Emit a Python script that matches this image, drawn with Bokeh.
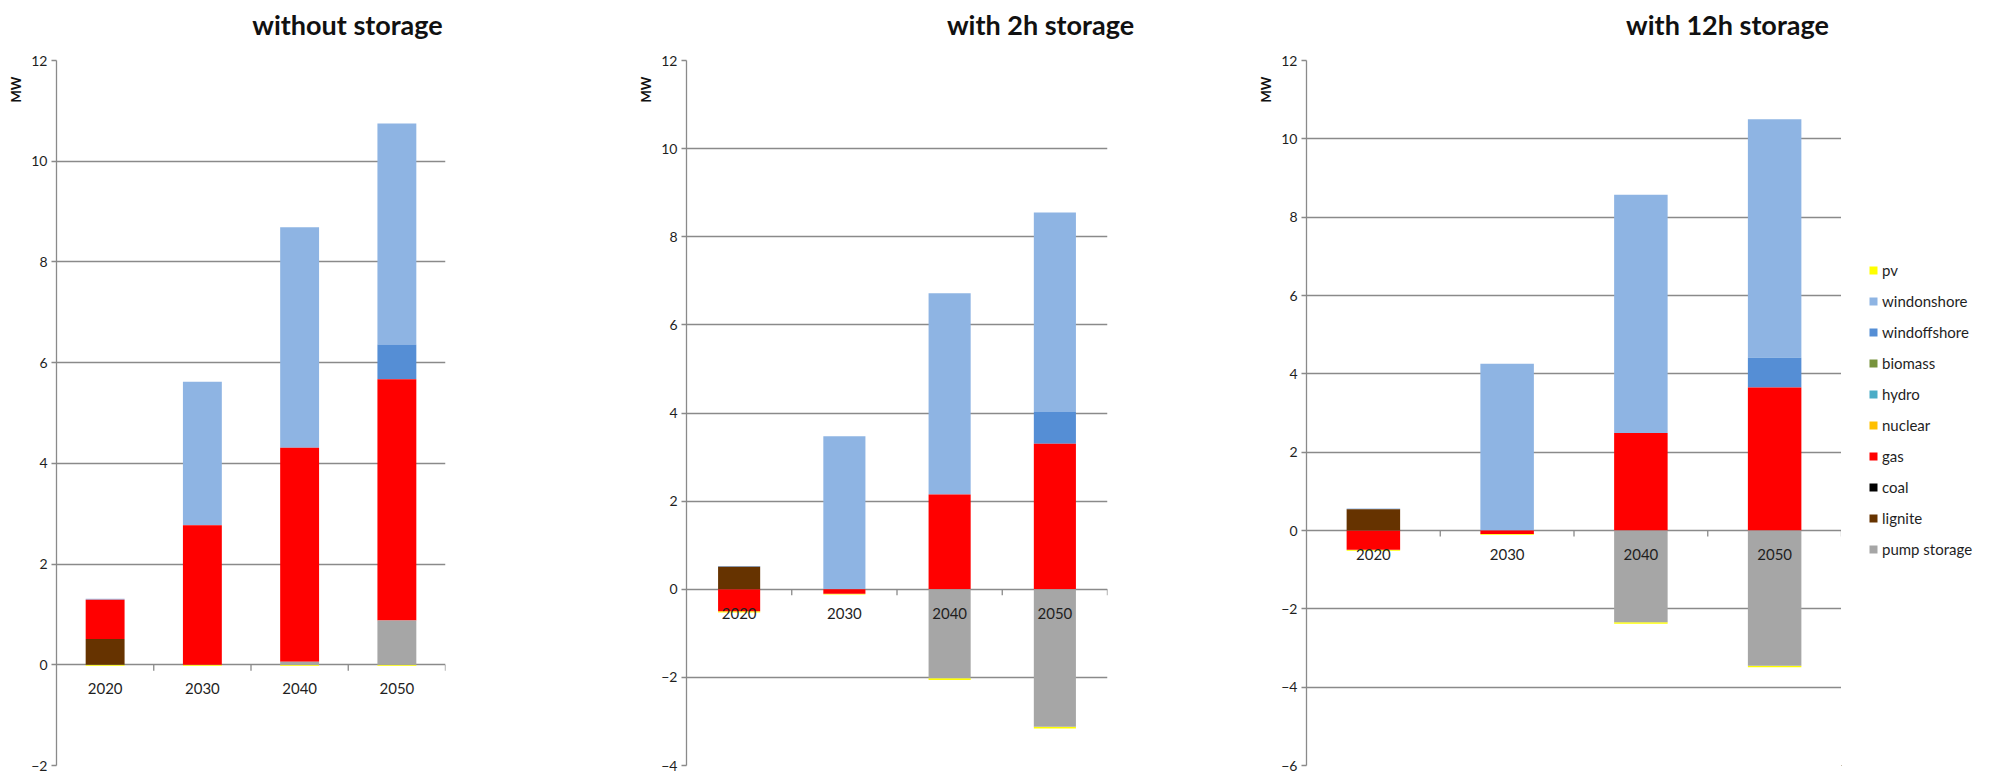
import math

from bokeh.core.properties import value
from bokeh.embed import file_html
from bokeh.layouts import column, row
from bokeh.models import FactorRange, FixedTicker, Legend, LegendItem, Range1d
from bokeh.models import Title
from bokeh.plotting import figure
from bokeh.resources import INLINE

years = ["2020", "2030", "2040", "2050"]
techs = ["pv", "windonshore", "windoffshore", "biomass", "hydro",
         "nuclear", "gas", "coal", "lignite", "pump storage"]
tech_colors = ["#FFFF00", "#8EB4E3", "#558ED5", "#77933C", "#4BACC6",
               "#FFC000", "#FF0000", "#000000", "#663300", "#A6A6A6"]
zeros = [0.0, 0.0, 0.0, 0.0]

# without storage (MW)
none_pv = [-0.02, -0.02, -0.02, -0.02]
none_windonshore = [0.02, 2.85, 4.38, 4.39]
none_windoffshore = [0.0, 0.0, 0.0, 0.69]
none_gas = [0.78, 2.77, 4.25, 4.79]
none_lignite = [0.51, 0.0, 0.0, 0.0]
none_pump = [0.0, 0.0, 0.06, 0.88]

# with 2h storage (MW)
h2_pv = [-0.03, -0.02, -0.04, -0.04]
h2_windonshore = [0.01, 3.47, 4.57, 4.53]
h2_windoffshore = [0.01, 0.0, 0.0, 0.72]
h2_gas = [-0.50, -0.10, 2.15, 3.30]
h2_lignite = [0.51, 0.0, 0.0, 0.0]
h2_pump = [0.0, 0.0, -2.02, -3.12]

# with 12h storage (MW)
h12_pv = [-0.03, -0.02, -0.04, -0.04]
h12_windonshore = [0.01, 4.26, 6.08, 6.09]
h12_windoffshore = [0.01, 0.0, 0.0, 0.76]
h12_gas = [-0.49, -0.09, 2.49, 3.65]
h12_lignite = [0.54, 0.0, 0.0, 0.0]
h12_pump = [0.0, 0.0, -2.34, -3.45]

titles = ["without storage", "with 2h storage", "with 12h storage"]
y_mins = [-2, -4, -6]
y_max = 12


def scenario(pv, won, woff, gas, lig, pump):
    return {"pv": pv, "windonshore": won, "windoffshore": woff,
            "biomass": zeros, "hydro": zeros, "nuclear": zeros,
            "gas": gas, "coal": zeros, "lignite": lig, "pump storage": pump}


scenarios = [
    scenario(none_pv, none_windonshore, none_windoffshore, none_gas, none_lignite, none_pump),
    scenario(h2_pv, h2_windonshore, h2_windoffshore, h2_gas, h2_lignite, h2_pump),
    scenario(h12_pv, h12_windonshore, h12_windoffshore, h12_gas, h12_lignite, h12_pump),
]


def stack(series):
    """Excel-style stacking: positives upward, negatives downward, in series order."""
    pos = [0.0] * len(years)
    neg = [0.0] * len(years)
    out = {}
    for tech in reversed(techs):
        bottoms, tops = [], []
        for i, v in enumerate(series[tech]):
            if v >= 0:
                bottoms.append(pos[i]); tops.append(pos[i] + v); pos[i] += v
            else:
                tops.append(neg[i]); bottoms.append(neg[i] + v); neg[i] += v
        out[tech] = (bottoms, tops)
    return out


FONT = "Lato"
GRID = "#8a8a8a"
TEXT = "#1f1f1f"
TOTAL_W = 1990
TITLE_H = 48
PANEL_H = 772 - TITLE_H
BAR_W = 0.40

# strip of panel titles across the top
title_fig = figure(width=TOTAL_W, height=TITLE_H, output_backend="svg",
                   toolbar_location=None, x_axis_location=None, y_axis_location=None,
                   x_range=Range1d(0, TOTAL_W), y_range=Range1d(0, TITLE_H),
                   min_border=0)
title_fig.outline_line_color = None
title_fig.grid.visible = False
title_fig.text(x=[347, 1040, 1727], y=[24, 24, 24], text=titles,
               text_align="center", text_baseline="middle",
               text_font=value(FONT), text_font_size="27px",
               text_font_style="bold", text_color="#111111")

# figure geometry: (width, left border, right border)
geometry = [
    (630, 50, 185),
    (620, 51, 143),
    (591, 52, 0),
]

figs = []
for k, (series, ymin) in enumerate(zip(scenarios, y_mins)):
    width, bl, br = geometry[k]
    p = figure(width=width, height=PANEL_H, output_backend="svg", toolbar_location=None,
               x_range=FactorRange(factors=years, range_padding=0),
               y_range=Range1d(ymin, y_max), x_axis_location=None,
               min_border_left=bl, min_border_right=br, min_border_top=12,
               min_border_bottom=7)
    p.outline_line_color = None
    p.background_fill_color = "white"
    p.border_fill_color = "white"

    ticks = list(range(ymin, y_max + 1, 2))
    p.yaxis.ticker = FixedTicker(ticks=ticks)
    p.yaxis.minor_tick_line_color = None
    p.yaxis.axis_line_color = GRID
    p.yaxis.axis_line_width = 1.3
    p.yaxis.major_tick_line_color = GRID
    p.yaxis.major_tick_line_width = 1.3
    p.yaxis.major_tick_out = 5
    p.yaxis.major_tick_in = 0
    p.yaxis.major_label_standoff = 4
    p.yaxis.major_label_text_font = FONT
    p.yaxis.major_label_text_font_size = "14px"
    p.yaxis.major_label_text_color = TEXT
    p.xgrid.visible = False
    p.ygrid.ticker = FixedTicker(ticks=ticks)
    p.ygrid.grid_line_color = GRID
    p.ygrid.grid_line_width = 1.3

    stacked = stack(series)
    for tech, color in zip(techs, tech_colors):
        bottoms, tops = stacked[tech]
        p.vbar(x=years, bottom=bottoms, top=tops, width=BAR_W,
               fill_color=color, line_color=None)

    # category axis ticks along the zero line
    p.ray(x=[1, 2, 3, 4], y=[0, 0, 0, 0], length=6, length_units="screen",
          angle=-math.pi / 2, line_color=GRID, line_width=1.3)
    p.text(x=years, y=[0] * len(years), text=years, y_offset=24,
           text_align="center", text_baseline="middle",
           text_font=value(FONT), text_font_size="15px", text_color=TEXT)

    p.add_layout(Title(text="MW", align="right", offset=16,
                       text_font=FONT, text_font_size="13px",
                       text_font_style="bold", text_color="#111111"), "left")
    figs.append(p)

# legend column to the right of the last panel; its swatch renderers
# hold one bar each, parked outside the visible range
leg_w = TOTAL_W - sum(g[0] for g in geometry)
leg_fig = figure(width=leg_w, height=PANEL_H, output_backend="svg",
                 toolbar_location=None, x_axis_location=None, y_axis_location=None,
                 x_range=Range1d(0, 1), y_range=Range1d(0, 1), min_border=0)
leg_fig.outline_line_color = None
leg_fig.grid.visible = False
swatches = [leg_fig.vbar(x=[-5], bottom=[-5], top=[-4], width=0.5,
                         fill_color=c, line_color=None)
            for c in tech_colors]
legend = Legend(items=[LegendItem(label=t, renderers=[r]) for t, r in zip(techs, swatches)],
                location=(27, 206), margin=0, padding=0,
                glyph_width=10, glyph_height=10, label_height=20,
                spacing=11, label_standoff=4,
                label_text_font=FONT, label_text_font_size="15px",
                label_text_color=TEXT, border_line_color=None,
                background_fill_alpha=0)
leg_fig.add_layout(legend)

layout = column(title_fig, row(*figs, leg_fig, spacing=0), spacing=0)
open("out.html", "w").write(file_html(layout, INLINE))
